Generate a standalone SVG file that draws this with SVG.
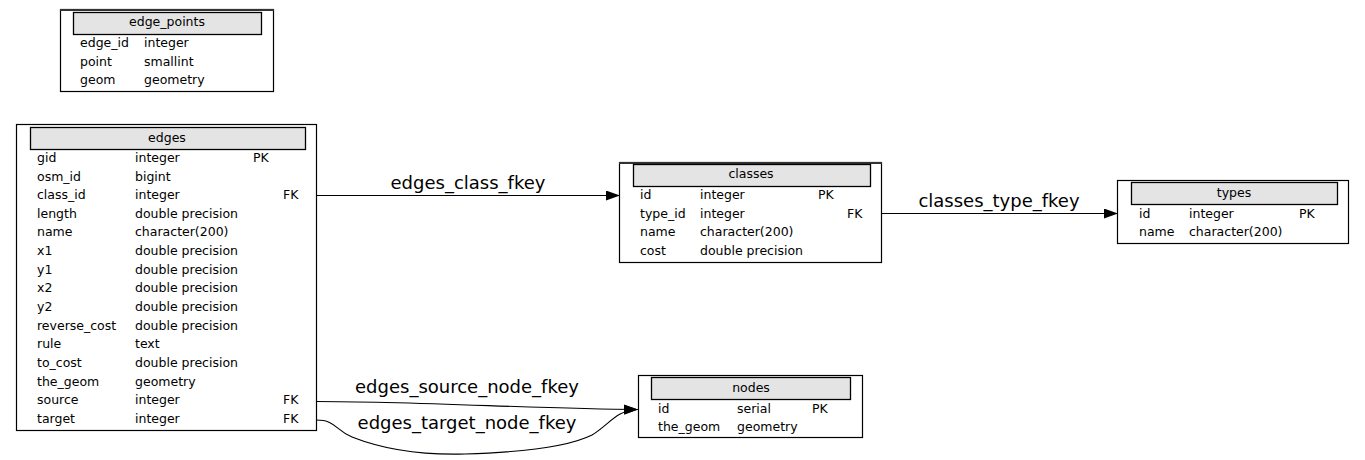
<svg xmlns="http://www.w3.org/2000/svg" width="1365" height="460" viewBox="0 0 1365 460">
<style>
text{font-family:"DejaVu Sans","Liberation Sans",sans-serif;fill:#000}
.box{fill:#fff;stroke:#000;stroke-width:1.2}
.top{stroke:#333;stroke-width:2.2}
.hdr{fill:#e4e4e4;stroke:#000;stroke-width:1.3}
.t{font-size:12.5px;text-anchor:middle}
.r{font-size:12.5px}
.lbl{font-size:18px;text-anchor:middle}
.edge{fill:none;stroke:#000;stroke-width:1.1}
</style>
<defs>
<marker id="arr" viewBox="0 0 14 10" refX="14" refY="5" markerWidth="14" markerHeight="10" markerUnits="userSpaceOnUse" orient="auto">
<path d="M0,0 L14,5 L0,10 Z" fill="#000"/>
</marker>
</defs>
<rect width="1365" height="460" fill="#fff"/>

<g id="connectors">
<path class="edge" d="M316,195.5 L620,195.5" marker-end="url(#arr)"/>
<text class="lbl" x="468" y="189">edges_class_fkey</text>
<path class="edge" d="M881,213.5 L1118,213.5" marker-end="url(#arr)"/>
<text class="lbl" x="999" y="207">classes_type_fkey</text>
<path class="edge" d="M316,401.5 C420,401.5 540,409 638,409.5" marker-end="url(#arr)"/>
<text class="lbl" x="467" y="393">edges_source_node_fkey</text>
<path class="edge" d="M316,420 C336,420 335,430 352,437 C390,452 430,455 465,454 C530,452 570,446 592,435 C610,424 616,410 638,409.5" marker-end="url(#arr)"/>
<text class="lbl" x="467" y="429">edges_target_node_fkey</text>
</g>

<g id="edge_points">
<rect class="box" x="60.5" y="9.5" width="213" height="82"/>
<line class="top" x1="60" y1="10" x2="274" y2="10"/>
<rect class="hdr" x="73.5" y="12.5" width="188" height="22"/>
<text class="t" x="167" y="26">edge_points</text>
<text class="r" x="80" y="47">edge_id</text><text class="r" x="144" y="47">integer</text>
<text class="r" x="80" y="65.5">point</text><text class="r" x="144" y="65.5">smallint</text>
<text class="r" x="80" y="84">geom</text><text class="r" x="144" y="84">geometry</text>
</g>

<g id="edges">
<rect class="box" x="16.5" y="124.5" width="300" height="306"/>
<rect class="hdr" x="30.5" y="127.5" width="275" height="22"/>
<text class="t" x="167" y="142">edges</text>
<text class="r" x="37" y="162">gid</text><text class="r" x="135" y="162">integer</text><text class="r" x="253" y="162">PK</text>
<text class="r" x="37" y="180.5">osm_id</text><text class="r" x="135" y="180.5">bigint</text>
<text class="r" x="37" y="199">class_id</text><text class="r" x="135" y="199">integer</text><text class="r" x="283" y="199">FK</text>
<text class="r" x="37" y="217.5">length</text><text class="r" x="135" y="217.5">double precision</text>
<text class="r" x="37" y="236">name</text><text class="r" x="135" y="236">character(200)</text>
<text class="r" x="37" y="255">x1</text><text class="r" x="135" y="255">double precision</text>
<text class="r" x="37" y="273.5">y1</text><text class="r" x="135" y="273.5">double precision</text>
<text class="r" x="37" y="292">x2</text><text class="r" x="135" y="292">double precision</text>
<text class="r" x="37" y="311">y2</text><text class="r" x="135" y="311">double precision</text>
<text class="r" x="37" y="329.5">reverse_cost</text><text class="r" x="135" y="329.5">double precision</text>
<text class="r" x="37" y="348">rule</text><text class="r" x="135" y="348">text</text>
<text class="r" x="37" y="367">to_cost</text><text class="r" x="135" y="367">double precision</text>
<text class="r" x="37" y="385.5">the_geom</text><text class="r" x="135" y="385.5">geometry</text>
<text class="r" x="37" y="404">source</text><text class="r" x="135" y="404">integer</text><text class="r" x="283" y="404">FK</text>
<text class="r" x="37" y="423">target</text><text class="r" x="135" y="423">integer</text><text class="r" x="283" y="423">FK</text>
</g>

<g id="classes">
<rect class="box" x="619.5" y="162.5" width="262" height="100"/>
<line class="top" x1="619" y1="163" x2="882" y2="163"/>
<rect class="hdr" x="633.5" y="164.5" width="237" height="22"/>
<text class="t" x="751" y="178">classes</text>
<text class="r" x="640" y="199">id</text><text class="r" x="700" y="199">integer</text><text class="r" x="818" y="199">PK</text>
<text class="r" x="640" y="217.5">type_id</text><text class="r" x="700" y="217.5">integer</text><text class="r" x="847" y="217.5">FK</text>
<text class="r" x="640" y="236">name</text><text class="r" x="700" y="236">character(200)</text>
<text class="r" x="640" y="255">cost</text><text class="r" x="700" y="255">double precision</text>
</g>

<g id="types">
<rect class="box" x="1117.5" y="180.5" width="231" height="63"/>
<rect class="hdr" x="1131.5" y="182.5" width="206" height="22"/>
<text class="t" x="1234" y="197">types</text>
<text class="r" x="1139" y="218">id</text><text class="r" x="1189" y="218">integer</text><text class="r" x="1299" y="218">PK</text>
<text class="r" x="1139" y="236">name</text><text class="r" x="1189" y="236">character(200)</text>
</g>

<g id="nodes">
<rect class="box" x="638.5" y="375.5" width="224" height="62"/>
<rect class="hdr" x="651.5" y="377.5" width="199" height="22"/>
<text class="t" x="751" y="392">nodes</text>
<text class="r" x="658" y="412.5">id</text><text class="r" x="737" y="412.5">serial</text><text class="r" x="812" y="412.5">PK</text>
<text class="r" x="658" y="431">the_geom</text><text class="r" x="737" y="431">geometry</text>
</g>
</svg>
